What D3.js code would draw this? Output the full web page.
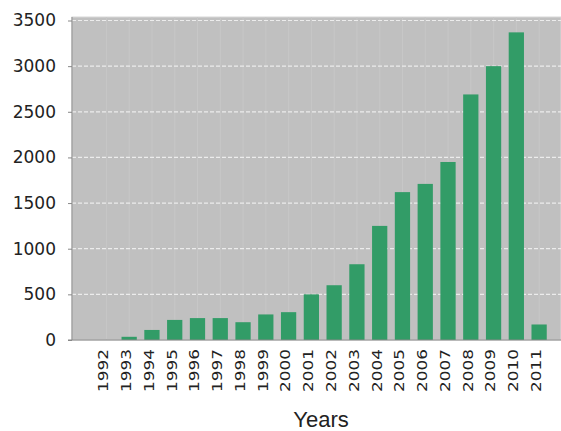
<!DOCTYPE html>
<html>
<head>
<meta charset="utf-8">
<script src="https://cdn.jsdelivr.net/npm/d3@7"></script>
<style>
  body { margin: 0; background: #fff; }
  text { font-family: "DejaVu Sans", Verdana, sans-serif; fill: #222; }
</style>
</head>
<body>
<svg id="chart" width="561" height="431"></svg>
<script>
var years = ["1992", "1993", "1994", "1995", "1996", "1997", "1998", "1999", "2000", "2001",
             "2002", "2003", "2004", "2005", "2006", "2007", "2008", "2009", "2010", "2011"];
var counts = [0, 35, 110, 220, 240, 240, 195, 280, 305, 500,
              600, 830, 1250, 1620, 1710, 1950, 2690, 3000, 3370, 170];
var yTicks = [0, 500, 1000, 1500, 2000, 2500, 3000, 3500];

var svg = d3.select("#chart");
var plotLeft = 72, plotRight = 561, plotTop = 17, plotBottom = 340;

var x = d3.scaleBand().domain(years).range([95, 550.5]).paddingInner(0.33).paddingOuter(0.165);
var y = d3.scaleLinear().domain([0, 3500]).range([plotBottom, 20.5]);

// plot background
svg.append("rect")
    .attr("x", plotLeft).attr("y", plotTop)
    .attr("width", plotRight - plotLeft).attr("height", plotBottom - plotTop)
    .attr("fill", "#c0c0c0")
    .attr("stroke", "#d8d8d8");

// faint vertical grid
svg.append("g").selectAll("line")
    .data(years)
    .enter().append("line")
    .attr("x1", function(d) { return x(d) + x.bandwidth() / 2; })
    .attr("x2", function(d) { return x(d) + x.bandwidth() / 2; })
    .attr("y1", plotTop).attr("y2", plotBottom)
    .attr("stroke", "#c7c7c7")
    .attr("stroke-width", 1);

// dashed horizontal grid
svg.append("g").selectAll("line")
    .data(yTicks.filter(function(d) { return d > 0; }))
    .enter().append("line")
    .attr("x1", plotLeft).attr("x2", plotRight)
    .attr("y1", function(d) { return y(d); })
    .attr("y2", function(d) { return y(d); })
    .attr("stroke", "#ececec")
    .attr("stroke-width", 1.2)
    .attr("stroke-dasharray", "4,2");

// bars
svg.append("g").selectAll("rect")
    .data(counts)
    .enter().append("rect")
    .attr("x", function(d, i) { return x(years[i]); })
    .attr("y", function(d) { return y(d); })
    .attr("width", x.bandwidth())
    .attr("height", function(d) { return plotBottom - y(d); })
    .attr("fill", "#329c67");

// y axis
var yAxis = svg.append("g")
    .attr("transform", "translate(" + plotLeft + ",0)")
    .call(d3.axisLeft(y).tickValues(yTicks).tickFormat(d3.format("d")).tickSize(4).tickPadding(12));
yAxis.select(".domain").attr("stroke", "#888").attr("d", "M0," + plotTop + "V" + plotBottom);
yAxis.selectAll(".tick line").attr("stroke", "#888");
yAxis.selectAll("text")
    .style("font-family", "'DejaVu Sans', Verdana, sans-serif")
    .style("font-size", "17px")
    .attr("fill", "#222");

// x axis line
svg.append("line")
    .attr("x1", plotLeft - 4).attr("x2", plotRight)
    .attr("y1", plotBottom).attr("y2", plotBottom)
    .attr("stroke", "#888");

// x labels
svg.append("g").selectAll("text")
    .data(years)
    .enter().append("text")
    .attr("transform", function(d) {
        return "translate(" + (x(d) + x.bandwidth() / 2 - 3) + ",349) rotate(-90) scale(1.25,1)";
    })
    .attr("dy", "0.36em")
    .attr("text-anchor", "end")
    .style("font-size", "13.5px")
    .text(function(d) { return d; });

svg.append("text")
    .attr("x", 321).attr("y", 427)
    .attr("text-anchor", "middle")
    .style("font-family", "'Liberation Sans', Arial, sans-serif")
    .style("font-size", "22px")
    .text("Years");
</script>
</body>
</html>
